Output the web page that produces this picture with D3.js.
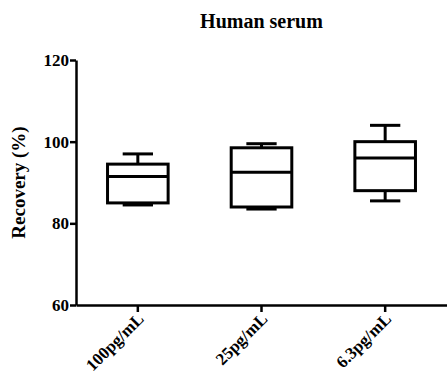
<!DOCTYPE html>
<html>
<head>
<meta charset="utf-8">
<script src="https://cdn.jsdelivr.net/npm/d3@7"></script>
<style>
  body { margin: 0; background: #fff; }
  text { font-family: "Liberation Serif", "Times New Roman", serif; font-weight: bold; }
</style>
</head>
<body>
<div id="chart"></div>
<script>
// categories and box statistics
var categories = ["100pg/mL", "25pg/mL", "6.3pg/mL"];
var mins    = [84.5, 83.5, 85.5];
var q1s     = [85.0, 84.0, 88.0];
var medians = [91.5, 92.5, 96.0];
var q3s     = [94.5, 98.5, 100.0];
var maxs    = [97.0, 99.5, 104.0];
var yTicks  = [60, 80, 100, 120];

var width = 447, height = 383;
var margin = { top: 60, right: 0, bottom: 78, left: 76 };

const svg = d3.select("#chart")
    .append("svg")
    .attr("width", width)
    .attr("height", height);

var x = d3.scaleBand()
    .domain(categories)
    .range([margin.left, width - margin.right])
    .padding(0);

var y = d3.scaleLinear()
    .domain([60, 120])
    .range([height - margin.bottom, margin.top]);

var boxes = categories.map(function(c, i) {
    return { cat: c, min: mins[i], q1: q1s[i], med: medians[i], q3: q3s[i], max: maxs[i] };
});

// title
svg.append("text")
    .attr("x", (margin.left + width) / 2)
    .attr("y", 28)
    .attr("text-anchor", "middle")
    .style("font-size", "20px")
    .text("Human serum");

// y axis
var yAxis = svg.append("g")
    .attr("transform", "translate(" + margin.left + ",0)")
    .call(d3.axisLeft(y).tickValues(yTicks).tickSize(6).tickSizeOuter(0));
yAxis.select(".domain").attr("stroke-width", 2.5);
yAxis.selectAll(".tick line").attr("stroke-width", 2.5);
yAxis.selectAll(".tick text").style("font-size", "17px").attr("fill", "#000").attr("x", -7);

// x axis
var xAxis = svg.append("g")
    .attr("transform", "translate(0," + y(60) + ")")
    .call(d3.axisBottom(x).tickSize(7).tickSizeOuter(0));
xAxis.select(".domain").attr("stroke-width", 2.5);
xAxis.selectAll(".tick line").attr("stroke-width", 2.5);
xAxis.selectAll(".tick text")
    .style("font-size", "17px")
    .attr("fill", "#000")
    .attr("text-anchor", "end")
    .attr("dy", null)
    .attr("y", 0)
    .attr("transform", "translate(7,15) rotate(-45)");

// y label
svg.append("text")
    .attr("transform", "translate(25," + y(90) + ") rotate(-90)")
    .attr("text-anchor", "middle")
    .style("font-size", "19px")
    .text("Recovery (%)");

// boxes
var bw = x.bandwidth() * 0.49;
var cw = bw / 2;
var g = svg.selectAll(".box")
    .data(boxes)
    .enter()
    .append("g")
    .attr("class", "box")
    .attr("stroke", "#000")
    .attr("stroke-width", 3)
    .attr("fill", "none");

g.append("line")
    .attr("x1", function(d) { return x(d.cat) + x.bandwidth() / 2; })
    .attr("x2", function(d) { return x(d.cat) + x.bandwidth() / 2; })
    .attr("y1", function(d) { return y(d.max); })
    .attr("y2", function(d) { return y(d.q3); });
g.append("line")
    .attr("x1", function(d) { return x(d.cat) + x.bandwidth() / 2; })
    .attr("x2", function(d) { return x(d.cat) + x.bandwidth() / 2; })
    .attr("y1", function(d) { return y(d.min); })
    .attr("y2", function(d) { return y(d.q1); });
g.append("line")
    .attr("x1", function(d) { return x(d.cat) + x.bandwidth() / 2 - cw / 2; })
    .attr("x2", function(d) { return x(d.cat) + x.bandwidth() / 2 + cw / 2; })
    .attr("y1", function(d) { return y(d.max); })
    .attr("y2", function(d) { return y(d.max); });
g.append("line")
    .attr("x1", function(d) { return x(d.cat) + x.bandwidth() / 2 - cw / 2; })
    .attr("x2", function(d) { return x(d.cat) + x.bandwidth() / 2 + cw / 2; })
    .attr("y1", function(d) { return y(d.min); })
    .attr("y2", function(d) { return y(d.min); });
g.append("rect")
    .attr("x", function(d) { return x(d.cat) + x.bandwidth() / 2 - bw / 2; })
    .attr("width", bw)
    .attr("y", function(d) { return y(d.q3); })
    .attr("height", function(d) { return y(d.q1) - y(d.q3); });
g.append("line")
    .attr("x1", function(d) { return x(d.cat) + x.bandwidth() / 2 - bw / 2; })
    .attr("x2", function(d) { return x(d.cat) + x.bandwidth() / 2 + bw / 2; })
    .attr("y1", function(d) { return y(d.med); })
    .attr("y2", function(d) { return y(d.med); });
</script>
</body>
</html>
